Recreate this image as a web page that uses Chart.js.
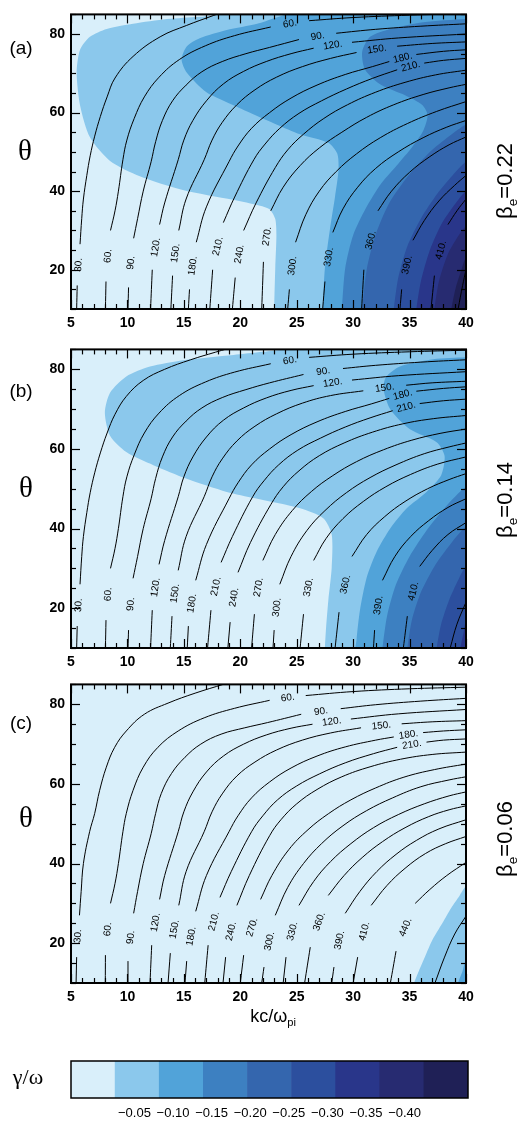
<!DOCTYPE html>
<html>
<head>
<meta charset="utf-8">
<script src="https://cdn.jsdelivr.net/npm/chart.js@4.4.1/dist/chart.umd.min.js"></script>
<style>
    html, body { margin: 0; padding: 0; background: #fff; }
    body { width: 517px; height: 1124px; position: relative; overflow: hidden; font-family: "Liberation Sans", Arial, sans-serif; }
    canvas { position: absolute; left: 0; }
    .lbl { position: absolute; white-space: nowrap; color: #000; transform: translate(-50%, -50%); line-height: 1; }
    .rot { transform: translate(-50%, -50%) rotate(-90deg); }
    .serif { font-family: "Liberation Serif", "DejaVu Serif", serif; }
    sub { font-size: 0.62em; vertical-align: -0.35em; }
</style>
</head>
<body>
<canvas id="panelA" width="517" height="340" style="top:0px"></canvas>
<canvas id="panelB" width="517" height="340" style="top:335px"></canvas>
<canvas id="panelC" width="517" height="340" style="top:670px"></canvas>
<canvas id="colorbar" width="517" height="74" style="top:1050px"></canvas>

<div class="lbl" style="left:21px;top:47px;font-size:19px">(a)</div>
<div class="lbl" style="left:21px;top:390px;font-size:19px">(b)</div>
<div class="lbl" style="left:21px;top:722px;font-size:19px">(c)</div>
<div class="lbl serif" style="left:25px;top:150px;font-size:29px">θ</div>
<div class="lbl serif" style="left:26px;top:487px;font-size:29px">θ</div>
<div class="lbl serif" style="left:26px;top:817px;font-size:29px">θ</div>
<div class="lbl rot" style="left:507px;top:181px;font-size:22px">β<sub>e</sub>=0.22</div>
<div class="lbl rot" style="left:507px;top:500px;font-size:22px">β<sub>e</sub>=0.14</div>
<div class="lbl rot" style="left:507px;top:839px;font-size:22px">β<sub>e</sub>=0.06</div>
<div class="lbl" style="left:273px;top:1018px;font-size:18px">kc/ω<sub>pi</sub></div>
<div class="lbl serif" style="left:28px;top:1077px;font-size:22px">γ/ω</div>

<script>
// axis ranges and ticks
const kMin = 5, kMax = 40, thMin = 10, thMax = 85;
const xTickVals = [5, 10, 15, 20, 25, 30, 35, 40];
const yTickVals = [20, 40, 60, 80];

// gamma/omega levels: 0 = above -0.05 ... 8 = below -0.40
const levelColors = ['#d9effa', '#8bc8ec', '#51a3d9', '#3d80c1', '#3466ae', '#2c4f9e', '#29368a', '#272b71', '#1f2056'];
const cbLabels = ['\u22120.05', '\u22120.10', '\u22120.15', '\u22120.20', '\u22120.25', '\u22120.30', '\u22120.35', '\u22120.40'];

// filled regions [level, polygon of [k, theta]]
const fillsA = [
    [1, [[18.6, 86], [41, 86], [41, 9], [23.0, 9], [23.0, 10], [23.1, 20.5], [23.2, 28.9], [23.1, 32.9], [22.6, 35.4], [21.75, 36.3], [19.35, 37.8], [14.9, 40.3], [11.1, 43.8], [8.46, 47.7], [6.68, 53.7], [5.8, 61.9], [5.5, 70.2], [5.8, 76], [6.68, 79.3], [8.16, 81.3], [10.5, 82.6], [13.5, 83.8], [16.4, 84.4], [18.6, 85]]],
    [2, [[24, 86], [41, 86], [41, 9], [27.3, 9], [27.3, 10], [27.5, 20.5], [27.95, 30.4], [28.4, 38.7], [28.7, 45.3], [28.6, 49.5], [27.8, 52.3], [25.3, 54.5], [23.2, 57], [21.3, 59.4], [19.4, 61.9], [17, 65.2], [15.25, 70.2], [14.8, 73.5], [15.25, 76.8], [16.4, 78.9], [18.8, 81], [21.5, 82.6], [23, 84], [24, 85]]],
    [3, [[41, 83.8], [40, 83.8], [36.2, 83], [33.3, 81.3], [31.5, 79.3], [30.8, 75.5], [31.05, 71], [32.5, 67], [34.6, 64.4], [36.1, 62], [36.6, 59.4], [36.2, 55.3], [35.2, 51.1], [34.0, 47], [32.5, 42], [31.1, 35.5], [30, 28.8], [29.3, 20.5], [29.0, 10], [29.0, 9], [41, 9]]],
    [4, [[30.8, 9], [30.8, 10], [31.2, 20], [32, 29], [33.2, 37], [34.9, 44], [36.8, 50], [38.5, 54], [40, 57], [41, 57.5], [41, 9]]],
    [5, [[33.6, 9], [33.6, 10], [34.0, 18], [34.8, 26], [36.0, 33], [37.5, 39.5], [38.8, 44], [40, 47.5], [41, 48], [41, 9]]],
    [6, [[35.6, 9], [35.6, 10], [36.0, 17], [36.8, 25], [37.9, 32], [39.1, 37], [40, 40], [41, 40.5], [41, 9]]],
    [7, [[37.2, 9], [37.2, 10], [37.6, 17], [38.4, 24], [39.3, 28.5], [40, 31], [41, 31.5], [41, 9]]],
    [8, [[38.7, 9], [38.7, 10], [39.1, 15.5], [39.6, 20], [40, 23], [41, 23.5], [41, 9]]],
];
const fillsB = [
    [1, [[24, 86], [41, 86], [41, 9], [27.5, 9], [27.5, 10], [27.6, 15], [27.8, 21.9], [28.1, 30.2], [28.1, 38.5], [27.35, 42.6], [25.3, 45.1], [21.3, 47.6], [18.8, 49.2], [15.25, 52.5], [12.3, 55.9], [9.9, 59.2], [8.46, 63.3], [8.0, 69.1], [8.46, 74.1], [9.9, 78.2], [12, 80.7], [14.95, 82.3], [19.4, 83.6], [22, 84.4], [24, 85]]],
    [2, [[41, 83.2], [40, 83], [37.1, 82.5], [34.15, 80.7], [32.9, 78], [32.7, 74.9], [33.3, 69.9], [35.0, 65], [37.4, 61.7], [38.1, 58.3], [37.8, 53.4], [36.5, 49.2], [34.75, 45.1], [33.3, 40.1], [32.1, 34.3], [31.2, 27.7], [30.6, 19.4], [30.3, 12], [30.3, 9], [41, 9]]],
    [3, [[32.6, 9], [32.6, 10], [33, 18], [33.8, 26], [35, 33], [36.5, 39.5], [38.2, 45.5], [40, 50.5], [41, 51], [41, 9]]],
    [4, [[34.8, 9], [34.8, 10], [35.2, 17], [36, 24], [37.2, 30.5], [38.6, 36], [40, 40.5], [41, 41], [41, 9]]],
    [5, [[37.4, 9], [37.4, 10], [37.8, 16], [38.5, 22], [39.3, 27], [40, 30.5], [41, 31], [41, 9]]],
    [6, [[39.5, 9], [39.5, 10], [39.8, 14], [40, 16.5], [41, 17], [41, 9]]],
];
const fillsC = [
    [1, [[35.4, 9], [35.4, 10], [36.2, 15.5], [37, 20.7], [37.9, 25], [38.7, 28.9], [39.4, 31.8], [40, 34.3], [41, 35], [41, 9]]],
    [2, [[39.3, 9], [39.3, 10], [39.7, 13], [40, 15.5], [41, 16], [41, 9]]],
];

// frequency contours [value, segments]; a label sits in each gap between segments
const linesA = [
    [30, [[[5.5, 10], [5.55, 16]], [[5.8, 26.5], [5.95, 33], [6.1, 38], [6.4, 44], [6.7, 49], [7.1, 54], [7.6, 59], [8.2, 64], [8.9, 68.8], [10.5, 74.3], [12.9, 79.3], [15.25, 82.2], [17.6, 84.7], [18.2, 85.3]]]],
    [60, [[[8.05, 10], [8.1, 17]], [[8.5, 30], [8.9, 35], [9.2, 40], [9.6, 48], [9.95, 53], [10.6, 58.5], [11.5, 64], [12.8, 69], [14.6, 73.5], [16.9, 77], [19.5, 79.6], [22.7, 81.8]], [[26.1, 83.4], [30, 84.2], [35, 84.8], [40, 85.2]]]],
    [90, [[[10.05, 10], [10.1, 15.5]], [[10.55, 28], [10.9, 33], [11.4, 40], [12.1, 47.5], [12.5, 52.6], [13.1, 58], [14, 63], [15.2, 67], [16.6, 70.4], [18.4, 73], [20.5, 75], [22.6, 76.6], [25.2, 78.6]], [[28.5, 80.2], [32, 81.2], [36, 82], [40, 82.6]]]],
    [120, [[[12.05, 10], [12.2, 20]], [[12.85, 31.5], [13.3, 37], [14.5, 48], [15, 53], [15.8, 58], [17, 63], [18.5, 67.3], [20.3, 70.5], [22.3, 73], [24.5, 75], [26.5, 76.4]], [[29.9, 77.9], [34, 79], [40, 80]]]],
    [150, [[[13.85, 10], [14.0, 18.5]], [[14.55, 30], [15.2, 38], [16.8, 48], [17.5, 53], [18.4, 57.5], [19.7, 62], [21.3, 65.8], [23.2, 69], [25.5, 71.7], [28, 73.8], [30.3, 75.3]], [[33.9, 76.9], [37, 77.6], [40, 78]]]],
    [180, [[[15.4, 10], [15.5, 15]], [[16.1, 27], [17, 36], [19, 47.5], [19.8, 51.5], [21, 56], [22.6, 60], [24.5, 63.7], [26.8, 67], [29.3, 69.7], [31.7, 71.7], [33.2, 73]], [[35.6, 74.8], [38, 75.6], [40, 76]]]],
    [210, [[[17.3, 10], [17.55, 20]], [[18.5, 32], [19.5, 38.5], [21.2, 48], [22.2, 52], [23.5, 56], [25.2, 59.8], [27.2, 63], [29.4, 66], [31.7, 68.7], [33.9, 70.9]], [[36.3, 72.6], [38, 73.3], [40, 73.8]]]],
    [240, [[[19.3, 10], [19.55, 18]], [[20.3, 30], [21.4, 37], [23.1, 46], [24.2, 50.5], [25.6, 54.5], [27.4, 58.5], [29.5, 62], [32, 65.2], [34.6, 67.7], [37.3, 69.6], [40, 70.8]]]],
    [270, [[[21.9, 10], [22.05, 22]], [[22.7, 35], [23.8, 41], [25.3, 46.5], [27, 51], [29, 55], [31.2, 58.8], [33.6, 62], [36.2, 64.6], [38.5, 66.3], [40, 67.2]]]],
    [300, [[[24.2, 10], [24.35, 15]], [[24.9, 27], [25.8, 34], [27, 40], [28.5, 45], [30.3, 49.5], [32.4, 53.6], [34.8, 57.2], [37.4, 60.3], [40, 62.8]]]],
    [330, [[[27.3, 10], [27.5, 17]], [[28.2, 29.5], [29.1, 35.5], [30.4, 41], [32, 45.8], [34, 50], [36.2, 53.6], [38.3, 56.3], [40, 58]]]],
    [360, [[[30.75, 10], [30.95, 20]], [[32.2, 35], [33.4, 40], [35, 44.8], [36.8, 48.8], [38.5, 51.8], [40, 53.8]]]],
    [390, [[[34.15, 10], [34.3, 15]], [[35.3, 27.5], [36.3, 32.5], [37.6, 37.5], [39, 41.5], [40, 44]]]],
    [410, [[[36.9, 10], [37.2, 18.5]], [[38.4, 31.5], [39.2, 35], [40, 38]]]],
    [440, [[[39.3, 10], [39.7, 16], [40, 20]]]],
];
const linesB = [
    [30, [[[5.5, 10], [5.55, 15.5]], [[5.8, 26], [5.95, 33], [6.1, 38], [6.4, 44], [6.7, 49], [7.1, 54], [7.6, 59], [8.2, 64], [8.9, 68.7], [9.9, 73.2], [11.4, 77.2], [13.3, 80], [15.6, 82.4], [17.8, 84.3], [18.9, 85.2]]]],
    [60, [[[8.05, 10], [8.1, 17]], [[8.5, 30], [8.9, 35], [9.2, 40], [9.6, 48], [9.95, 53], [10.6, 58.5], [11.5, 64], [12.8, 69], [14.6, 73.4], [16.9, 76.8], [19.5, 79.3], [22.7, 81.4]], [[26.1, 83], [30, 83.8], [35, 84.4], [40, 84.8]]]],
    [90, [[[10.05, 10], [10.1, 14.5]], [[10.5, 27.5], [10.9, 33], [11.4, 40], [12.1, 47.5], [12.5, 52.6], [13.1, 58], [14, 63], [15.2, 67], [16.6, 70.3], [18.4, 72.9], [20.5, 74.9], [22.6, 76.6], [25.6, 78.7]], [[29.1, 80.2], [32, 81], [36, 81.8], [40, 82.4]]]],
    [120, [[[12.05, 10], [12.2, 19.5]], [[12.8, 31], [13.3, 37], [14.5, 48], [15, 53], [15.8, 58], [17, 63], [18.5, 67.2], [20.3, 70.3], [22.3, 72.8], [24.5, 74.7], [26.5, 75.9]], [[29.9, 77.3], [34, 78.4], [40, 79.4]]]],
    [150, [[[13.8, 10], [13.95, 18]], [[14.5, 29.5], [15.2, 38], [16.8, 48], [17.5, 53], [18.4, 57.5], [19.7, 62], [21.3, 65.7], [23.2, 68.8], [25.5, 71.5], [28, 73.4], [30.9, 74.6]], [[34.7, 76], [37, 76.6], [40, 77]]]],
    [180, [[[15.3, 10], [15.4, 15.5]], [[16.05, 27], [17, 36], [19, 47.5], [19.8, 51.5], [21, 56], [22.6, 60], [24.5, 63.6], [26.8, 66.8], [29.3, 69.4], [31.6, 71.3], [33.2, 72.7]], [[35.6, 74.5], [38, 75.2], [40, 75.6]]]],
    [210, [[[17.1, 10], [17.4, 19.5]], [[18.3, 31.5], [19.3, 38], [21.1, 48], [22.1, 52], [23.4, 56], [25.1, 59.7], [27.1, 62.7], [29.3, 65.5], [31.5, 67.8], [33.5, 69.6]], [[35.9, 71.4], [38, 72.1], [40, 72.5]]]],
    [240, [[[18.9, 10], [19.1, 16.5]], [[19.8, 29], [20.9, 36.5], [22.7, 46], [23.8, 50.5], [25.2, 54.5], [27, 58.3], [29.2, 61.5], [31.7, 64.2], [34.4, 66.3], [37.1, 67.6], [40, 68.4]]]],
    [270, [[[21.0, 10], [21.25, 18.5]], [[22.0, 32], [23.1, 38.5], [24.6, 44.5], [26.3, 49.3], [28.2, 53.3], [30.3, 56.8], [32.7, 59.8], [35.2, 62.2], [37.7, 63.9], [40, 65]]]],
    [300, [[[22.9, 10], [23.0, 14.5]], [[23.5, 26], [24.5, 33], [25.9, 39.5], [27.5, 44.5], [29.4, 49], [31.5, 52.8], [33.8, 56], [36.3, 58.8], [38.5, 60.5], [40, 61.5]]]],
    [330, [[[25.3, 10], [25.6, 18.5]], [[26.5, 32], [27.6, 37.5], [29.1, 42.5], [30.9, 46.8], [32.9, 50.5], [35.1, 53.6], [37.5, 56.2], [40, 58]]]],
    [360, [[[28.4, 10], [28.75, 19]], [[29.9, 33], [31.2, 38.5], [32.8, 43], [34.6, 46.8], [36.6, 50], [38.5, 52.3], [40, 53.8]]]],
    [390, [[[31.8, 10], [31.9, 14.5]], [[32.6, 27], [33.7, 33], [35.1, 38], [36.7, 42], [38.4, 45.3], [40, 47.5]]]],
    [410, [[[34.45, 10], [34.8, 18]], [[35.9, 30.5], [37, 34.5], [38.4, 38.5], [40, 41.5]]]],
    [440, [[[38.6, 10], [39.2, 16], [40, 21.5]]]],
];
const linesC = [
    [30, [[[5.45, 10], [5.5, 16.5]], [[5.75, 27], [5.9, 33], [6.1, 40], [6.65, 48], [7.1, 52.6], [7.54, 58.4], [8.13, 64.2], [8.87, 69.2], [9.9, 73.3], [11.5, 77.5], [13.6, 80.3], [16, 82.8], [18.6, 85.1]]]],
    [60, [[[8.04, 10], [8.05, 17]], [[8.5, 30], [8.9, 35], [9.2, 40], [9.6, 48], [9.9, 52.6], [10.5, 58.4], [11.4, 64.2], [12.7, 69.2], [14.5, 73.3], [16.8, 76.6], [19.5, 79], [22.6, 81]], [[25.8, 82.2], [30, 83.2], [35, 83.9], [40, 84.3]]]],
    [90, [[[10.05, 10], [10.05, 15.5]], [[10.55, 27.5], [10.9, 33], [11.4, 40], [12.1, 47.5], [12.5, 52.6], [13, 57.6], [13.9, 62.6], [15.1, 66.7], [16.5, 70], [18.3, 72.5], [20.4, 74.1], [22.4, 75.4], [25.4, 77.5]], [[28.9, 78.9], [32, 79.9], [36, 80.8], [40, 81.5]]]],
    [120, [[[12.0, 10], [12.15, 19.5]], [[12.85, 31], [13.3, 37], [14.5, 48], [15, 53], [15.8, 58], [17, 63], [18.5, 67], [20.3, 70], [22.3, 72.3], [24.5, 74], [26.4, 75]], [[29.8, 76.3], [34, 77.6], [40, 78.7]]]],
    [150, [[[13.6, 10], [13.8, 17.5]], [[14.55, 29.5], [15.2, 38], [16.8, 48], [17.5, 53], [18.4, 57.5], [19.7, 62], [21.3, 65.5], [23.2, 68.5], [25.5, 71], [28, 72.8], [30.7, 74.1]], [[34.3, 75.1], [37, 75.6], [40, 75.9]]]],
    [180, [[[15.1, 10], [15.25, 15.5]], [[16.05, 28], [17, 37], [19, 48], [19.8, 52], [21, 56.5], [22.6, 60.5], [24.5, 64], [26.8, 67], [29.3, 69.3], [32, 71], [33.6, 71.8]], [[36.2, 72.9], [38, 73.3], [40, 73.6]]]],
    [210, [[[16.85, 10], [17.15, 19.5]], [[18.2, 31.5], [19.2, 38], [21, 48], [22, 52], [23.3, 56], [25, 59.5], [27, 62.5], [29.3, 65.3], [31.8, 67.6], [33.9, 69.2]], [[36.5, 70.5], [38, 71], [40, 71.3]]]],
    [240, [[[18.47, 10], [18.7, 16.5]], [[19.7, 29.5], [20.8, 37], [22.6, 47], [23.6, 51], [25, 55], [26.8, 58.6], [29, 61.8], [31.5, 64.3], [34.2, 66.2], [37, 67.4], [40, 68]]]],
    [270, [[[20.0, 10], [20.3, 17]], [[21.8, 31], [22.8, 37], [24.3, 43.5], [26, 48.5], [27.8, 52.5], [29.8, 56], [32, 59], [34.5, 61.7], [37.2, 63.6], [40, 65]]]],
    [300, [[[21.9, 10], [22.1, 14]], [[23.1, 27], [24.2, 34], [25.6, 40], [27.2, 45], [29.1, 49.5], [31.2, 53.3], [33.5, 56.5], [36, 59.3], [38.5, 61], [40, 61.8]]]],
    [330, [[[23.8, 10], [24.05, 16.5]], [[25.2, 29.5], [26.5, 35.5], [28, 40.5], [29.8, 45], [31.8, 49], [34, 52.3], [36.3, 55], [38.5, 57], [40, 58]]]],
    [360, [[[25.7, 10], [26.2, 19]], [[27.8, 32], [29.2, 37], [30.8, 41.5], [32.6, 45.5], [34.6, 49], [36.7, 51.8], [38.5, 53.5], [40, 54.5]]]],
    [390, [[[28.1, 10], [28.3, 14]], [[29.3, 27.5], [30.6, 33], [32.1, 38], [33.8, 42.3], [35.6, 45.8], [37.6, 48.7], [40, 51]]]],
    [410, [[[30.0, 10], [30.4, 16.5]], [[31.6, 29.5], [33, 34.5], [34.6, 38.8], [36.4, 42.5], [38.2, 45], [40, 46.8]]]],
    [440, [[[33.3, 10], [33.8, 18]], [[35.5, 30], [36.8, 33.5], [38.3, 37], [40, 40.3]]]],
    [470, [[[37.25, 10], [38.1, 16.5], [39, 22.3], [40, 26.8]]]],
];

const toXY = (pts) => pts.map((p) => ({ x: p[0], y: p[1] }));

const buildDatasets = (fills, lines) => {
    const sets = [];
    fills.forEach(([level, pts]) => {
        sets.push({
            data: toXY(pts),
            backgroundColor: levelColors[level],
            borderColor: 'transparent',
            borderWidth: 0,
            fill: 'shape',
            tension: 0.25,
            order: 40 - level,
        });
    });
    lines.forEach(([, segs]) => {
        segs.forEach((seg) => {
            sets.push({
                data: toXY(seg),
                borderColor: '#000',
                borderWidth: 1,
                fill: false,
                tension: 0.4,
                order: 0,
            });
        });
    });
    return sets;
};

// plot background, box and inward ticks on all four sides
const framePlugin = {
    id: 'frame',
    beforeDatasetsDraw(chart) {
        const { ctx, chartArea: a } = chart;
        ctx.save();
        ctx.fillStyle = levelColors[0];
        ctx.fillRect(a.left, a.top, a.right - a.left, a.bottom - a.top);
        ctx.restore();
    },
    afterDraw(chart) {
        const { ctx, chartArea: a, scales: { x, y } } = chart;
        const tick = (x1, y1, x2, y2) => {
            ctx.beginPath();
            ctx.moveTo(x1, y1);
            ctx.lineTo(x2, y2);
            ctx.stroke();
        };
        ctx.save();
        ctx.strokeStyle = '#000';
        ctx.lineWidth = 1.2;
        for (let v = kMin; v <= kMax; v++) {
            const px = Math.round(x.getPixelForValue(v)) + 0.5;
            const len = v % 5 === 0 ? 9 : 5;
            tick(px, a.bottom, px, a.bottom - len);
            tick(px, a.top, px, a.top + len);
        }
        for (let v = thMin; v <= thMax; v += 5) {
            const py = Math.round(y.getPixelForValue(v)) + 0.5;
            const len = v % 20 === 0 ? 9 : 5;
            tick(a.left, py, a.left + len, py);
            tick(a.right, py, a.right - len, py);
        }
        ctx.lineWidth = 2;
        ctx.strokeRect(a.left, a.top, a.right - a.left, a.bottom - a.top);
        ctx.restore();
    },
};

// contour value labels, centred in the gaps and turned along the line
const labelPlugin = {
    id: 'contourLabels',
    afterDatasetsDraw(chart, args, opts) {
        const { ctx, scales: { x, y } } = chart;
        ctx.save();
        ctx.font = '10px "Liberation Sans", Arial, sans-serif';
        ctx.fillStyle = '#000';
        ctx.textAlign = 'center';
        ctx.textBaseline = 'middle';
        opts.lines.forEach(([value, segs]) => {
            for (let j = 0; j < segs.length - 1; j++) {
                const p = segs[j][segs[j].length - 1];
                const q = segs[j + 1][0];
                const x1 = x.getPixelForValue(p[0]), y1 = y.getPixelForValue(p[1]);
                const x2 = x.getPixelForValue(q[0]), y2 = y.getPixelForValue(q[1]);
                ctx.save();
                ctx.translate((x1 + x2) / 2, (y1 + y2) / 2);
                ctx.rotate(Math.atan2(y2 - y1, x2 - x1));
                ctx.fillText(value + '.', 0, 0);
                ctx.restore();
            }
        });
        ctx.restore();
    },
};

const tickFont = { family: '"Liberation Sans", Arial, sans-serif', size: 14, weight: 'bold' };

const makePanel = (id, fills, lines, padTop, padBottom) => {
    new Chart(document.getElementById(id), {
        type: 'scatter',
        data: { datasets: buildDatasets(fills, lines) },
        options: {
            responsive: false,
            animation: false,
            showLine: true,
            layout: { padding: { left: 31, right: 51, top: padTop, bottom: padBottom } },
            elements: { point: { radius: 0 }, line: { capBezierPoints: false } },
            scales: {
                x: {
                    type: 'linear', min: kMin, max: kMax,
                    afterBuildTicks: (s) => { s.ticks = xTickVals.map((v) => ({ value: v })); },
                    afterFit: (s) => { s.height = 24; },
                    grid: { display: false, drawTicks: false },
                    border: { display: false },
                    ticks: { font: tickFont, color: '#000', padding: 6, autoSkip: false, maxRotation: 0 },
                },
                y: {
                    type: 'linear', min: thMin, max: thMax,
                    afterBuildTicks: (s) => { s.ticks = yTickVals.map((v) => ({ value: v })); },
                    afterFit: (s) => { s.width = 40; },
                    grid: { display: false, drawTicks: false },
                    border: { display: false },
                    ticks: { font: tickFont, color: '#000', padding: 6 },
                },
            },
            plugins: {
                legend: { display: false },
                tooltip: { enabled: false },
                contourLabels: { lines },
            },
        },
        plugins: [framePlugin, labelPlugin],
    });
};

makePanel('panelA', fillsA, linesA, 7, 7);
makePanel('panelB', fillsB, linesB, 11, 3);
makePanel('panelC', fillsC, linesC, 11, 3);

// colour bar
const boxPlugin = {
    id: 'box',
    afterDraw(chart) {
        const { ctx, chartArea: a } = chart;
        ctx.save();
        ctx.strokeStyle = '#000';
        ctx.lineWidth = 1.5;
        ctx.strokeRect(a.left, a.top, a.right - a.left, a.bottom - a.top);
        ctx.restore();
    },
};

new Chart(document.getElementById('colorbar'), {
    type: 'bar',
    data: {
        labels: levelColors.map((c, i) => i),
        datasets: [{
            data: levelColors.map(() => 1),
            backgroundColor: levelColors,
            borderWidth: 0,
            barPercentage: 1,
            categoryPercentage: 1,
        }],
    },
    options: {
        responsive: false,
        animation: false,
        layout: { padding: { left: 71, right: 49, top: 11, bottom: 6 } },
        scales: {
            x: { display: false },
            x2: {
                type: 'linear', position: 'bottom', min: 0, max: levelColors.length,
                afterBuildTicks: (s) => { s.ticks = cbLabels.map((t, i) => ({ value: i + 1 })); },
                afterFit: (s) => { s.height = 20; },
                grid: { display: false, drawTicks: false },
                border: { display: false },
                ticks: {
                    callback: (v, i) => cbLabels[i],
                    font: { family: '"Liberation Sans", Arial, sans-serif', size: 13 },
                    color: '#000', padding: 8, autoSkip: false, maxRotation: 0,
                },
            },
            y: { display: false, min: 0, max: 1 },
        },
        plugins: { legend: { display: false }, tooltip: { enabled: false } },
    },
    plugins: [boxPlugin],
});
</script>
</body>
</html>
